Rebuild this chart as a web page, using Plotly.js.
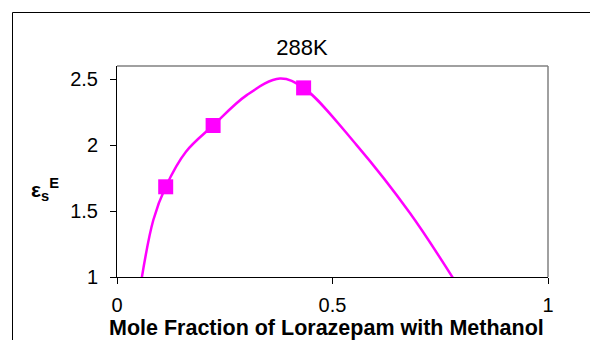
<!DOCTYPE html>
<html><head><meta charset="utf-8">
<script src="https://cdn.plot.ly/plotly-3.0.1.min.js"></script>
<style>html,body{margin:0;padding:0;background:#fff}#chart{width:590px;height:340px}</style>
</head><body><div id="chart"></div>
<script>
// Measured points (squares)
var pointX = [0.113, 0.223, 0.433];
var pointY = [1.684, 2.149, 2.434];
// Trend curve
var curveX = [0.0573, 0.0843, 0.113, 0.160, 0.223, 0.301, 0.378, 0.433, 0.556, 0.680, 0.780];
var curveY = [0.99, 1.432, 1.684, 1.95, 2.149, 2.379, 2.505, 2.434, 2.0, 1.483, 0.99];
var xTicks = [0, 0.5, 1];
var yTicks = [1, 1.5, 2, 2.5];
var font = "Liberation Sans, Arial, sans-serif";

var L = 117, R = 548, T = 66, B = 277, W = 590, H = 340;
var pw = R - L, ph = B - T;
function px(x){return (x - L)/pw;}
function py(y){return (B - y)/ph;}

var traces = [
  {x: curveX, y: curveY, mode: 'lines', line: {color: '#FF00FF', width: 2.5, shape: 'spline', smoothing: 1}, hoverinfo: 'skip', showlegend: false},
  {x: pointX, y: pointY, mode: 'markers', marker: {symbol: 'square', size: 15, color: '#FF00FF'}, showlegend: false}
];

var layout = {
  width: W, height: H,
  margin: {l: L, r: W - R, t: T, b: H - B, pad: 0},
  paper_bgcolor: '#fff', plot_bgcolor: '#fff',
  font: {family: font, color: '#000'},
  title: {text: '288K', font: {size: 22, family: font, color: '#000'}, xref: 'container', yref: 'container', x: 302/W, y: 1 - 47/H, xanchor: 'center', yanchor: 'middle'},
  xaxis: {range: [0, 1], tickvals: xTicks, ticktext: xTicks.map(String), showgrid: false, zeroline: false,
    showline: true, linecolor: '#000', linewidth: 1, ticks: 'outside', ticklen: 6, tickcolor: '#000',
    tickfont: {size: 20, family: font, color: '#000'}, ticklabelstandoff: 4},
  yaxis: {range: [1, 2.6], tickvals: yTicks, ticktext: yTicks.map(String), showgrid: false, zeroline: false,
    showline: true, linecolor: '#000', linewidth: 1, ticks: 'outside', ticklen: 6, tickcolor: '#000',
    tickfont: {size: 20, family: font, color: '#000'}, ticklabelstandoff: 8},
  shapes: [
    {type: 'line', xref: 'paper', yref: 'paper', x0: 0, x1: 1, y0: 1, y1: 1, line: {color: '#808080', width: 1.5}},
    {type: 'line', xref: 'paper', yref: 'paper', x0: 1, x1: 1, y0: 0, y1: 1, line: {color: '#808080', width: 1.5}},
    {type: 'rect', xref: 'paper', yref: 'paper', x0: px(12.5), x1: px(620), y0: py(360), y1: py(12.5), line: {color: '#000', width: 1}}
  ],
  annotations: [
    {text: '<b>ε<sub>s</sub><sup>E</sup></b>', xref: 'paper', yref: 'paper', x: px(29), y: py(189), xanchor: 'left', yanchor: 'middle', showarrow: false, font: {size: 21, family: font, color: '#000'}},
    {text: '<b>Mole Fraction of Lorazepam with Methanol</b>', xref: 'paper', yref: 'paper', x: px(326), y: py(328), xanchor: 'center', yanchor: 'middle', showarrow: false, font: {size: 21.5, family: font, color: '#000'}}
  ]
};
Plotly.newPlot('chart', traces, layout, {displayModeBar: false, staticPlot: true});
</script></body></html>
